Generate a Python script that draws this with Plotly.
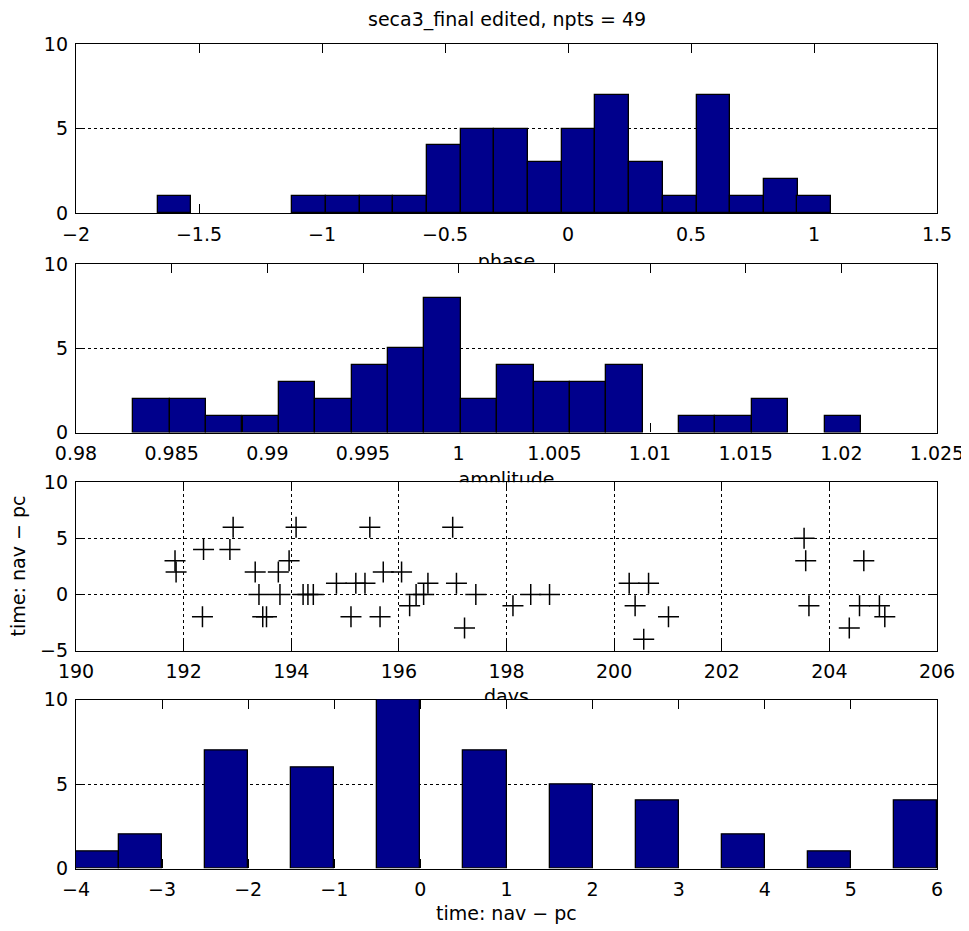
import plotly.graph_objects as go

# ---------------- data ----------------
title_text = "seca3_final edited, npts = 49"

# panel 1: histogram of phase (20 bins)
phase_centers = [-1.600, -1.463, -1.326, -1.189, -1.052, -0.915, -0.778, -0.641,
                 -0.505, -0.368, -0.231, -0.094, 0.043, 0.180, 0.317, 0.454,
                 0.591, 0.728, 0.865, 1.001]
phase_counts = [1, 0, 0, 0, 1, 1, 1, 1, 4, 5, 5, 3, 5, 7, 3, 1, 7, 1, 2, 1]
phase_ticks = [-2, -1.5, -1, -0.5, 0, 0.5, 1, 1.5]
phase_ticktext = ["\u22122", "\u22121.5", "\u22121", "\u22120.5", "0", "0.5", "1", "1.5"]

# panel 2: histogram of amplitude (20 bins)
amp_centers = [0.98395, 0.98585, 0.98775, 0.98966, 0.99156, 0.99346, 0.99536,
               0.99726, 0.99916, 1.00106, 1.00297, 1.00487, 1.00677, 1.00867,
               1.01057, 1.01247, 1.01437, 1.01628, 1.01818, 1.02008]
amp_counts = [2, 2, 1, 1, 3, 2, 4, 5, 8, 2, 4, 3, 3, 4, 0, 1, 1, 2, 0, 1]
amp_ticks = [0.98, 0.985, 0.99, 0.995, 1.0, 1.005, 1.01, 1.015, 1.02, 1.025]
amp_ticktext = ["0.98", "0.985", "0.99", "0.995", "1", "1.005", "1.01", "1.015", "1.02", "1.025"]

# panel 3: time offset vs day
days = [191.84, 191.86, 192.37, 192.35, 192.92, 192.86, 193.33, 193.40, 193.47, 193.54,
        193.76, 193.79, 193.96, 194.09, 194.22, 194.31, 194.41, 194.84, 195.11, 195.20,
        195.37, 195.46, 195.65, 195.71, 196.05, 196.20, 196.32, 196.46, 196.54, 197.00,
        197.07, 197.22, 197.43, 198.12, 198.45, 198.80, 200.28, 200.39, 200.55, 200.64,
        201.01, 203.53, 203.56, 203.62, 204.37, 204.56, 204.64, 204.93, 205.03]
time_diff = [3, 2, 4, -2, 6, 4, 2, 0, -2, -2,
             2, 0, 3, 6, 0, 0, 0, 1, -2, 1,
             1, 6, -2, 2, 2, -1, 0, 0, 1, 6,
             1, -3, 0, -1, 0, 0, 1, -1, -4, 1,
             -2, 5, 3, -1, -3, -1, 3, -1, -2]
day_ticks = [190, 192, 194, 196, 198, 200, 202, 204, 206]
day_ticktext = ["190", "192", "194", "196", "198", "200", "202", "204", "206"]
time_ticks = [-5, 0, 5, 10]
time_ticktext = ["\u22125", "0", "5", "10"]

# panel 4: histogram of time offset (20 bins of 0.5)
tbin_centers = [-3.75, -3.25, -2.75, -2.25, -1.75, -1.25, -0.75, -0.25, 0.25, 0.75,
                1.25, 1.75, 2.25, 2.75, 3.25, 3.75, 4.25, 4.75, 5.25, 5.75]
tbin_counts = [1, 2, 0, 7, 0, 6, 0, 10, 0, 7, 0, 5, 0, 4, 0, 2, 0, 1, 0, 4]
t_ticks = [-4, -3, -2, -1, 0, 1, 2, 3, 4, 5, 6]
t_ticktext = ["\u22124", "\u22123", "\u22122", "\u22121", "0", "1", "2", "3", "4", "5", "6"]

count_ticks = [0, 5, 10]
count_ticktext = ["0", "5", "10"]

x_labels = ["phase", "amplitude", "days", "time: nav \u2212 pc"]
y_label3 = "time: nav \u2212 pc"

# ---------------- layout geometry ----------------
OFF = 8                      # page body margin of the html page
W, H = 969 - OFF, 931 - OFF  # figure size
ML, MR = 76 - OFF, 32
FONT = dict(family="DejaVu Sans", size=19, color="black")
BAR_COLOR = "#00008C"


def dom(top_ref, bot_ref):
    """domain from reference-image pixel rows"""
    return [1 - (bot_ref - OFF) / H, 1 - (top_ref - OFF) / H]


def py(ref_y):
    return 1 - (ref_y - OFF) / H


panels = [(44, 213), (264, 432.5), (482.3, 650.5), (699.5, 868.5)]

fig = go.Figure()


def bar_line(counts):
    return dict(color="black", width=[1.3 if c > 0 else 0 for c in counts])


fig.add_trace(go.Bar(x=phase_centers, y=phase_counts, width=0.1369,
                     marker=dict(color=BAR_COLOR, line=bar_line(phase_counts)),
                     xaxis="x", yaxis="y", showlegend=False))
fig.add_trace(go.Bar(x=amp_centers, y=amp_counts, width=0.0019015,
                     marker=dict(color=BAR_COLOR, line=bar_line(amp_counts)),
                     xaxis="x2", yaxis="y2", showlegend=False))
fig.add_trace(go.Scatter(x=days, y=time_diff, mode="markers",
                         marker=dict(symbol="cross-thin", size=15,
                                     line=dict(color="black", width=1.5)),
                         xaxis="x3", yaxis="y3", showlegend=False))
fig.add_trace(go.Bar(x=tbin_centers, y=tbin_counts, width=0.5,
                     marker=dict(color=BAR_COLOR, line=bar_line(tbin_counts)),
                     xaxis="x4", yaxis="y4", showlegend=False))

# clipped x-axis labels (partly hidden by the next axes box, as in the reference)
gap_label_axes = [("x5", "y5"), ("x6", "y6"), ("x7", "y7")]
for (xa, ya), lab in zip(gap_label_axes, x_labels[:3]):
    fig.add_trace(go.Scatter(x=[0.5], y=[1.2], mode="text", text=[lab],
                             textposition="middle center", textfont=FONT,
                             cliponaxis=True, hoverinfo="skip",
                             xaxis=xa, yaxis=ya, showlegend=False))

common = dict(showline=True, linecolor="black", linewidth=1.3, mirror="ticks",
              ticks="inside", ticklen=9, tickwidth=1, tickcolor="black",
              tickfont=FONT, zeroline=False, layer="below traces",
              fixedrange=True)
grid = dict(showgrid=True, gridcolor="black", gridwidth=1, griddash="dot")
nogrid = dict(showgrid=False)

layout = dict(
    width=W, height=H,
    margin=dict(l=ML, r=MR, t=0, b=0, autoexpand=False),
    paper_bgcolor="white", plot_bgcolor="white",
    showlegend=False, bargap=0,
    font=FONT,
)

xspecs = [
    (phase_ticks, phase_ticktext, [-2, 1.5], False),
    (amp_ticks, amp_ticktext, [0.98, 1.025], False),
    (day_ticks, day_ticktext, [190, 206], True),
    (t_ticks, t_ticktext, [-4, 6], False),
]
yspecs = [
    (count_ticks, count_ticktext, [0, 10]),
    (count_ticks, count_ticktext, [0, 10]),
    (time_ticks, time_ticktext, [-5, 10]),
    (count_ticks, count_ticktext, [0, 10]),
]
for i in range(4):
    n = "" if i == 0 else str(i + 1)
    tv, tt, rng, xg = xspecs[i]
    layout["xaxis" + n] = dict(common, **(grid if xg else nogrid), domain=[0, 1],
                               anchor="y" + n, range=rng, tickmode="array",
                               tickvals=tv, ticktext=tt, ticklabelstandoff=4)
    tv, tt, rng = yspecs[i]
    layout["yaxis" + n] = dict(common, **grid, domain=dom(*panels[i]),
                               anchor="x" + n, range=rng, tickmode="array",
                               tickvals=tv, ticktext=tt, ticklabelstandoff=3)

# invisible helper axes for the clipped labels (20px tall strip above next panel)
for k, (xa, ya) in enumerate(gap_label_axes):
    top_next = panels[k + 1][0]
    layout["xaxis" + xa[1:]] = dict(visible=False, domain=[0, 1], range=[0, 1],
                                    anchor=ya, fixedrange=True)
    layout["yaxis" + ya[1:]] = dict(visible=False, domain=dom(top_next - 20, top_next),
                                    range=[0, 20], anchor=xa, fixedrange=True)

fig.update_layout(**layout)

annotations = [
    dict(text=title_text, xref="paper", yref="paper", x=0.5, y=py(20),
         xanchor="center", yanchor="middle", showarrow=False, font=FONT),
    dict(text=x_labels[3], xref="paper", yref="paper", x=0.5, y=py(913),
         xanchor="center", yanchor="middle", showarrow=False, font=FONT),
    dict(text=y_label3, xref="paper", yref="paper", x=(18 - 76) / (W - ML - MR),
         y=py((panels[2][0] + panels[2][1]) / 2), textangle=-90,
         xanchor="center", yanchor="middle", showarrow=False, font=FONT),
]
fig.update_layout(annotations=annotations)

fig.write_html("out.html")
